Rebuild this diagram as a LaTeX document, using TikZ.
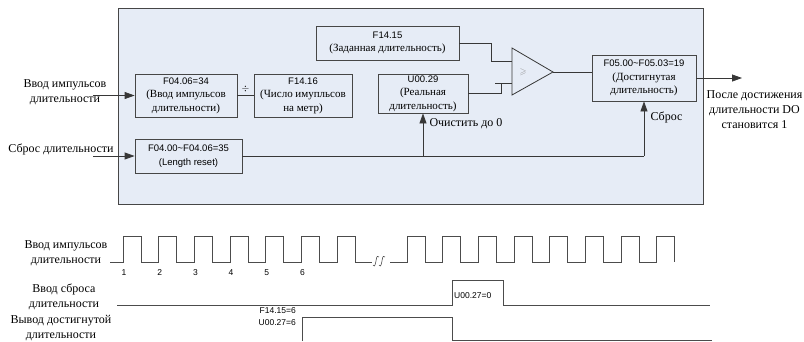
\documentclass[tikz,border=0pt]{standalone}
\usepackage{amsmath,amssymb}
\usepackage{fontspec}
\setmainfont{Liberation Serif}
\setsansfont{Liberation Sans}
\usepackage{xcolor}
\usetikzlibrary{calc,arrows.meta,positioning}
\definecolor{panelBlue}{RGB}{230,236,246}
\definecolor{panelEdge}{RGB}{70,70,70}
\definecolor{wireGray}{RGB}{55,55,55}
\newcommand{\parCode}[1]{{\sffamily\fontsize{9.5}{13.5}\selectfont #1}}
\newcommand{\sigCode}[1]{{\sffamily\fontsize{8.5}{10}\selectfont #1}}
\tikzset{
  paramBox/.style={draw=panelEdge,fill=panelBlue,line width=.8pt,align=center,inner sep=1pt,font=\rmfamily\fontsize{11}{13.5}\selectfont},
  sigLabel/.style={align=center,font=\rmfamily\fontsize{12}{15}\selectfont},
  flowLine/.style={draw=wireGray,line width=.8pt},
  flowArrow/.style={flowLine,-{Triangle[length=10pt,width=7pt]}},
  pulseLine/.style={draw=black!70,line width=.9pt}
}

\begin{document}
\begin{tikzpicture}[x=1pt,y=-1pt]
\useasboundingbox (0,0) rectangle (804,341);
\fill[panelBlue,draw=panelEdge,line width=.9pt] (118,8) rectangle (703,204);

% parameter boxes
\node[paramBox,minimum width=102pt,minimum height=43pt] (inBox) at (186,95.5) {\parCode{F04.06=34}\\(Ввод импульсов\\длительности)};
\node[paramBox,minimum width=98pt,minimum height=43pt] (perMeter) at (303,95.5) {\parCode{F14.16}\\(Число имупльсов\\на метр)};
\node[paramBox,minimum width=107pt,minimum height=34pt] (resetBox) at (188.5,156) {\parCode{F04.00\textasciitilde F04.06=35}\\\parCode{(Length reset)}};
\node[paramBox,minimum width=143pt,minimum height=34pt] (setLen) at (387.5,43) {\parCode{F14.15}\\(Заданная длительность)};
\node[paramBox,minimum width=90pt,minimum height=39pt] (realLen) at (423,93.5) {\parCode{U00.29}\\(Реальная\\длительность)};
\node[paramBox,minimum width=104pt,minimum height=46pt] (reachLen) at (644,78) {\parCode{F05.00\textasciitilde F05.03=19}\\(Достигнутая\\длительность)};

% comparator
\coordinate (cmpTop) at (512,48);
\coordinate (cmpBot) at (512,95);
\coordinate (cmpOut) at (553,72);
\coordinate (cmpInA) at (512,61);
\coordinate (cmpInB) at (512,83);
\draw[flowLine] (cmpTop) -- (cmpOut) -- (cmpBot) -- cycle;
\node[text=black!45,font=\fontsize{9}{9}\selectfont] (cmpSign) at (523,72) {$\geqslant$};

% inputs
\node[sigLabel] (inLabel) at (65,92.5) {Ввод импульсов\\длительности};
\node[sigLabel] (rstLabel) at (61,149) {Сброс длительности};
\coordinate (inStart) at (93,95.5);
\coordinate (rstStart) at (93,156);
\draw[flowArrow] (inStart) -- (inBox.west);
\draw[flowArrow] (rstStart) -- (resetBox.west);

% wiring
\draw[flowLine] (inBox.east) -- (perMeter.west);
\node[font=\fontsize{10}{10}\selectfont] (divSign) at (245.5,89) {$\div$};
\draw[flowLine] (setLen.east) -- (491,43) |- (cmpInA);
\draw[flowLine] (realLen.east) -- (501,93.5) -- (501,83);
\draw[flowLine] (495,83) -- (cmpInB);
\draw[flowLine] (cmpOut) -- (cmpOut -| reachLen.west);
\coordinate (outEnd) at (742,78);
\draw[flowArrow] (reachLen.east) -- (outEnd);
\node[sigLabel] (outLabel) at (754.5,110) {После достижения\\длительности DO\\становится 1};

% reset path
\coordinate (clrTap) at (realLen.south |- resetBox.east);
\coordinate (rstCorner) at (reachLen.south |- resetBox.east);
\draw[flowLine] (resetBox.east) -- (rstCorner);
\draw[flowArrow] (clrTap) -- (realLen.south);
\draw[flowArrow] (rstCorner) -- (reachLen.south);
\node[sigLabel,anchor=west] (clrText) at (426,124) {Очистить до 0};
\node[sigLabel,anchor=west] (rstText) at (647,117) {Сброс};

% timing diagram
\node[sigLabel] (tPulse) at (66,253) {Ввод импульсов\\длительности};
\node[sigLabel] (tReset) at (64,296.5) {Ввод сброса\\длительности};
\node[sigLabel] (tReach) at (61,328) {Вывод достигнутой\\длительности};

\draw[pulseLine] (110,262) \foreach \k in {0,...,6} { -- ({123+35.7*\k},262) -- ++(0,-26) -- ++(18,0) -- ++(0,26) } -- (372,262);
\draw[pulseLine] (390,262) \foreach \k in {0,...,7} { -- ({407+35.7*\k},262) -- ++(0,-26) -- ++(18,0) -- ++(0,26) };
\foreach \bx in {374,380}
  \draw[pulseLine,line width=.6pt] (\bx-1,265) .. controls (\bx+1,268) and (\bx+1.5,263) .. (\bx+2,261) .. controls (\bx+2.5,256) and (\bx+4,255) .. (\bx+5,257);
\foreach \n in {1,...,6}
  \node[font=\sffamily\fontsize{8.5}{10}\selectfont] (num\n) at ({124+35.7*(\n-1)},273) {\n};

\draw[pulseLine] (117,305) -- (452,305) -- (452,280) -- (503,280) -- (503,305) -- (710,305);
\node[anchor=west,inner sep=1pt] (rstVal) at (453,296) {\sigCode{U00.27=0}};
\draw[pulseLine] (302,341) -- (302,317) -- (452,317) -- (452,340) -- (712,340);
\node[anchor=east,align=right,inner sep=1pt] (reachVal) at (297,317) {\sigCode{F14.15=6}\\\sigCode{U00.27=6}};
\end{tikzpicture}
\end{document}
